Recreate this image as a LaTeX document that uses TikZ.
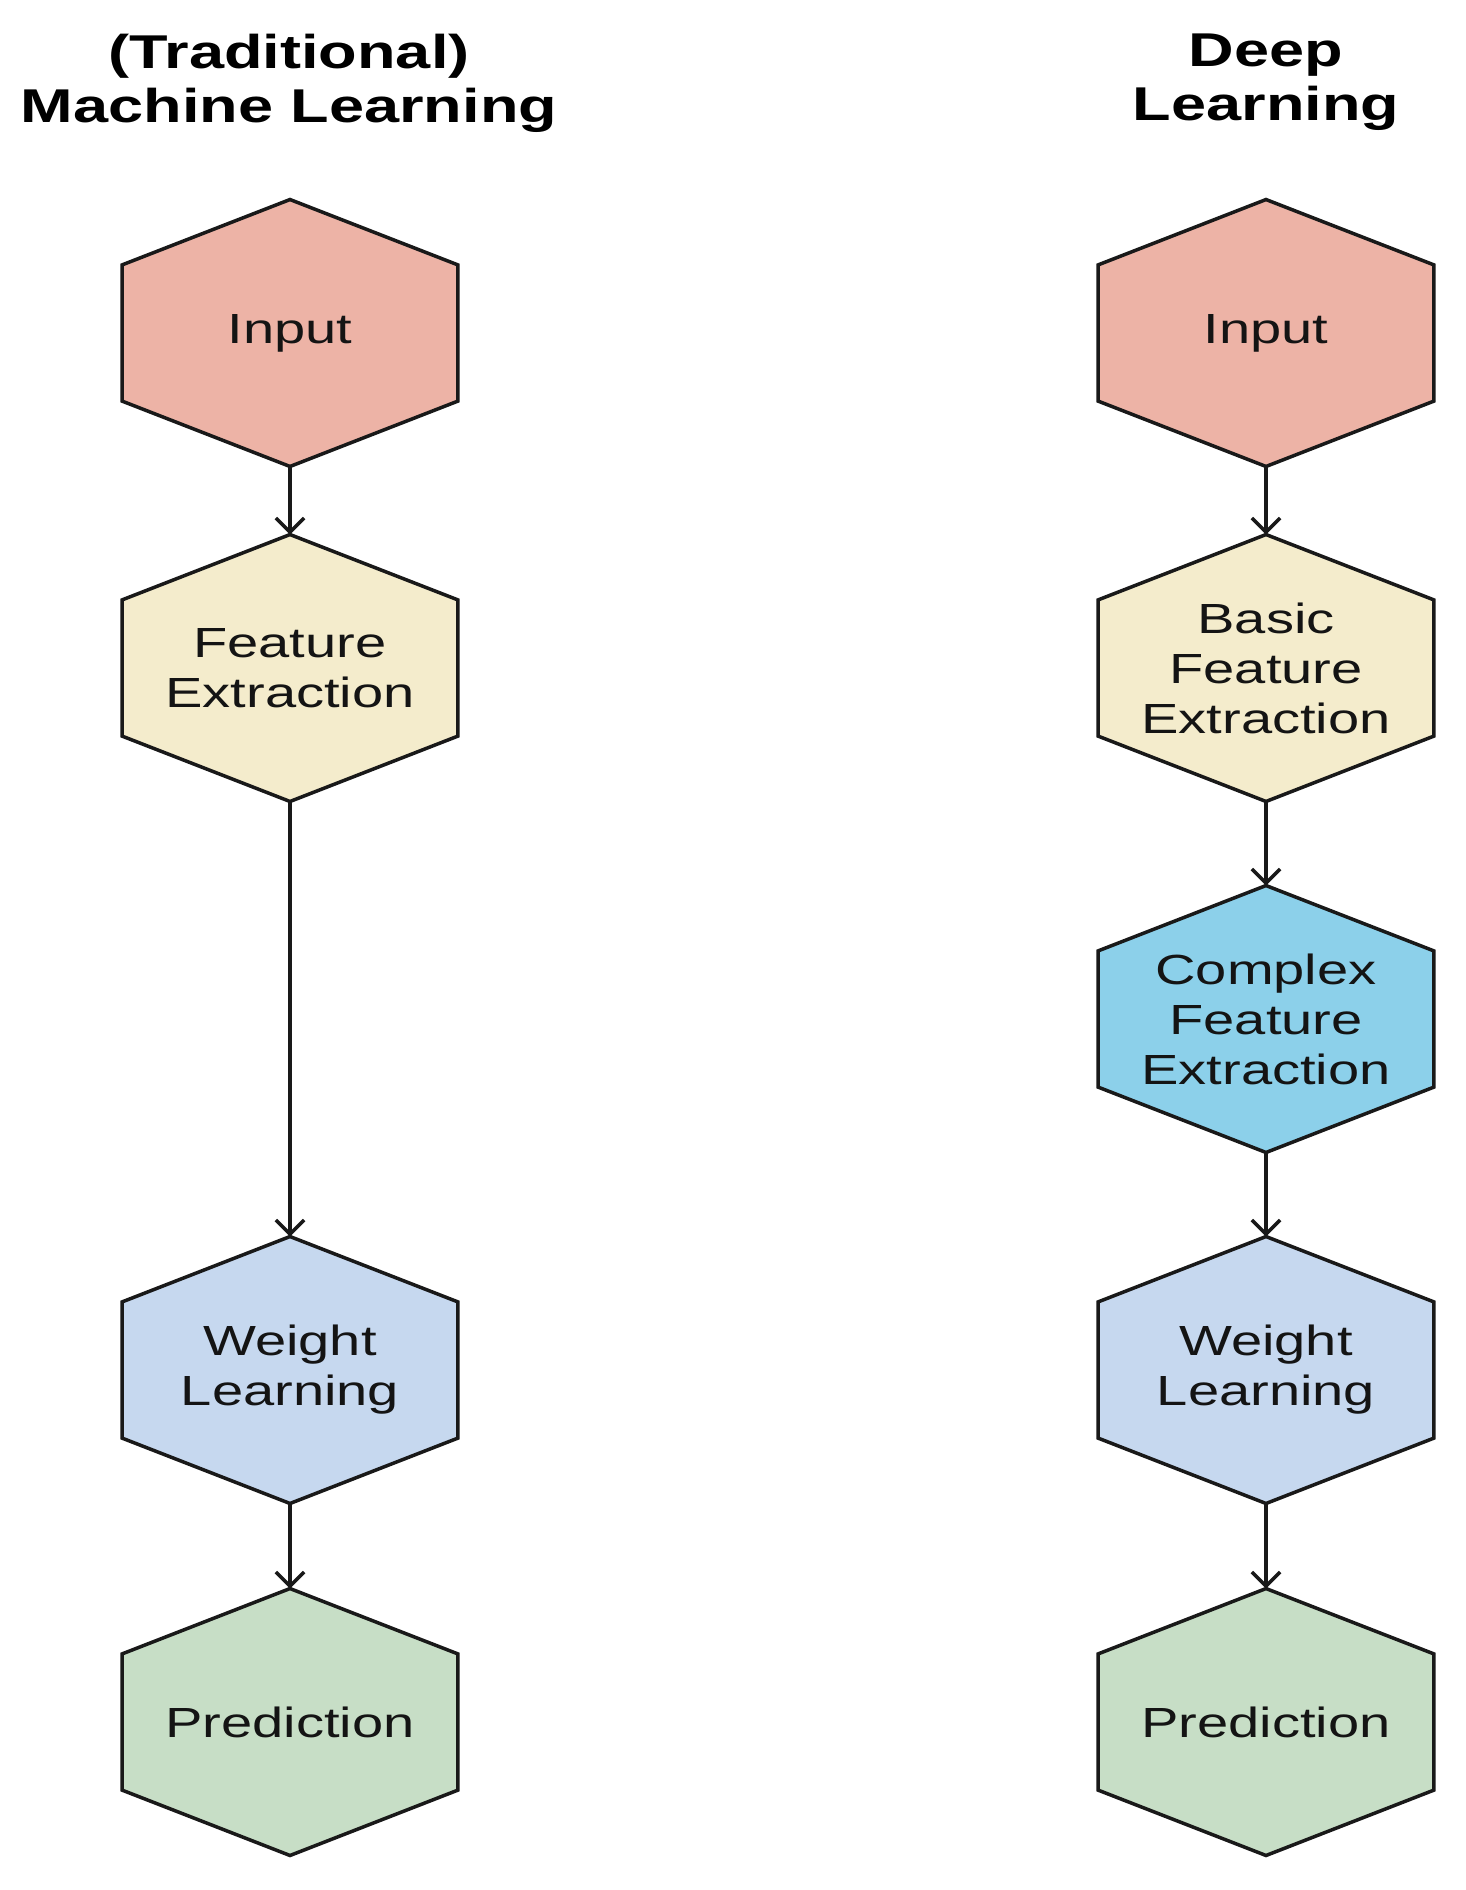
\documentclass[tikz,border=0pt]{standalone}
\usepackage{fontspec}
\setmainfont[FakeStretch=1.33]{Liberation Sans}
\usetikzlibrary{calc,backgrounds,arrows.meta}
\definecolor{cin}{RGB}{237,179,166}
\definecolor{cfe}{RGB}{244,236,204}
\definecolor{ccx}{RGB}{140,208,234}
\definecolor{cwl}{RGB}{198,216,239}
\definecolor{cpr}{RGB}{199,222,198}
\definecolor{lin}{RGB}{25,25,25}
\definecolor{txt}{RGB}{20,20,20}
\begin{document}
\begin{tikzpicture}[x=0.02cm,y=-0.02cm,
  hexnode/.style={shape=rectangle, inner sep=0pt, outer sep=0pt,
    minimum width=6.72cm, minimum height=5.34cm, align=center,
    font=\fontsize{24}{28.5}\selectfont, text=txt},
  titlenode/.style={align=center, anchor=north, inner sep=0pt,
    font=\bfseries\fontsize{27}{30.7}\selectfont, text=black},
  flow/.style={draw=lin, line width=2pt,
    -{Straight Barb[length=8pt,width=16pt,line width=2pt]}},
  hexline/.style={draw=lin, line width=2pt, line join=miter}]
\useasboundingbox (0,0) rectangle (1466,1890);
% titles
\node[titlenode] (tl) at (289,34) {(Traditional)\\Machine Learning};
\node[titlenode] (tr) at (1266,34) {Deep\\Learning};
% left column
\node[hexnode] (l1) at (290,333) {Input};
\node[hexnode] (l2) at (290,668) {Feature\\Extraction};
\node[hexnode] (l3) at (290,1370) {Weight\\Learning};
\node[hexnode] (l4) at (290,1722) {Prediction};
% right column
\node[hexnode] (r1) at (1266,333) {Input};
\node[hexnode] (r2) at (1266,668) {Basic\\Feature\\Extraction};
\node[hexnode] (r3) at (1266,1019) {Complex\\Feature\\Extraction};
\node[hexnode] (r4) at (1266,1370) {Weight\\Learning};
\node[hexnode] (r5) at (1266,1722) {Prediction};
\begin{scope}[on background layer]
\foreach \n/\c in {l1/cin,l2/cfe,l3/cwl,l4/cpr,r1/cin,r2/cfe,r3/ccx,r4/cwl,r5/cpr}{
  \filldraw[hexline, fill=\c] (\n.north)
    -- ($(\n.north east)!0.245!(\n.south east)$)
    -- ($(\n.north east)!0.755!(\n.south east)$)
    -- (\n.south)
    -- ($(\n.north west)!0.755!(\n.south west)$)
    -- ($(\n.north west)!0.245!(\n.south west)$)
    -- cycle;
}
\end{scope}
% connectors
\draw[flow] (l1.south) -- (l2.north);
\draw[flow] (l2.south) -- (l3.north);
\draw[flow] (l3.south) -- (l4.north);
\draw[flow] (r1.south) -- (r2.north);
\draw[flow] (r2.south) -- (r3.north);
\draw[flow] (r3.south) -- (r4.north);
\draw[flow] (r4.south) -- (r5.north);
\end{tikzpicture}
\end{document}
